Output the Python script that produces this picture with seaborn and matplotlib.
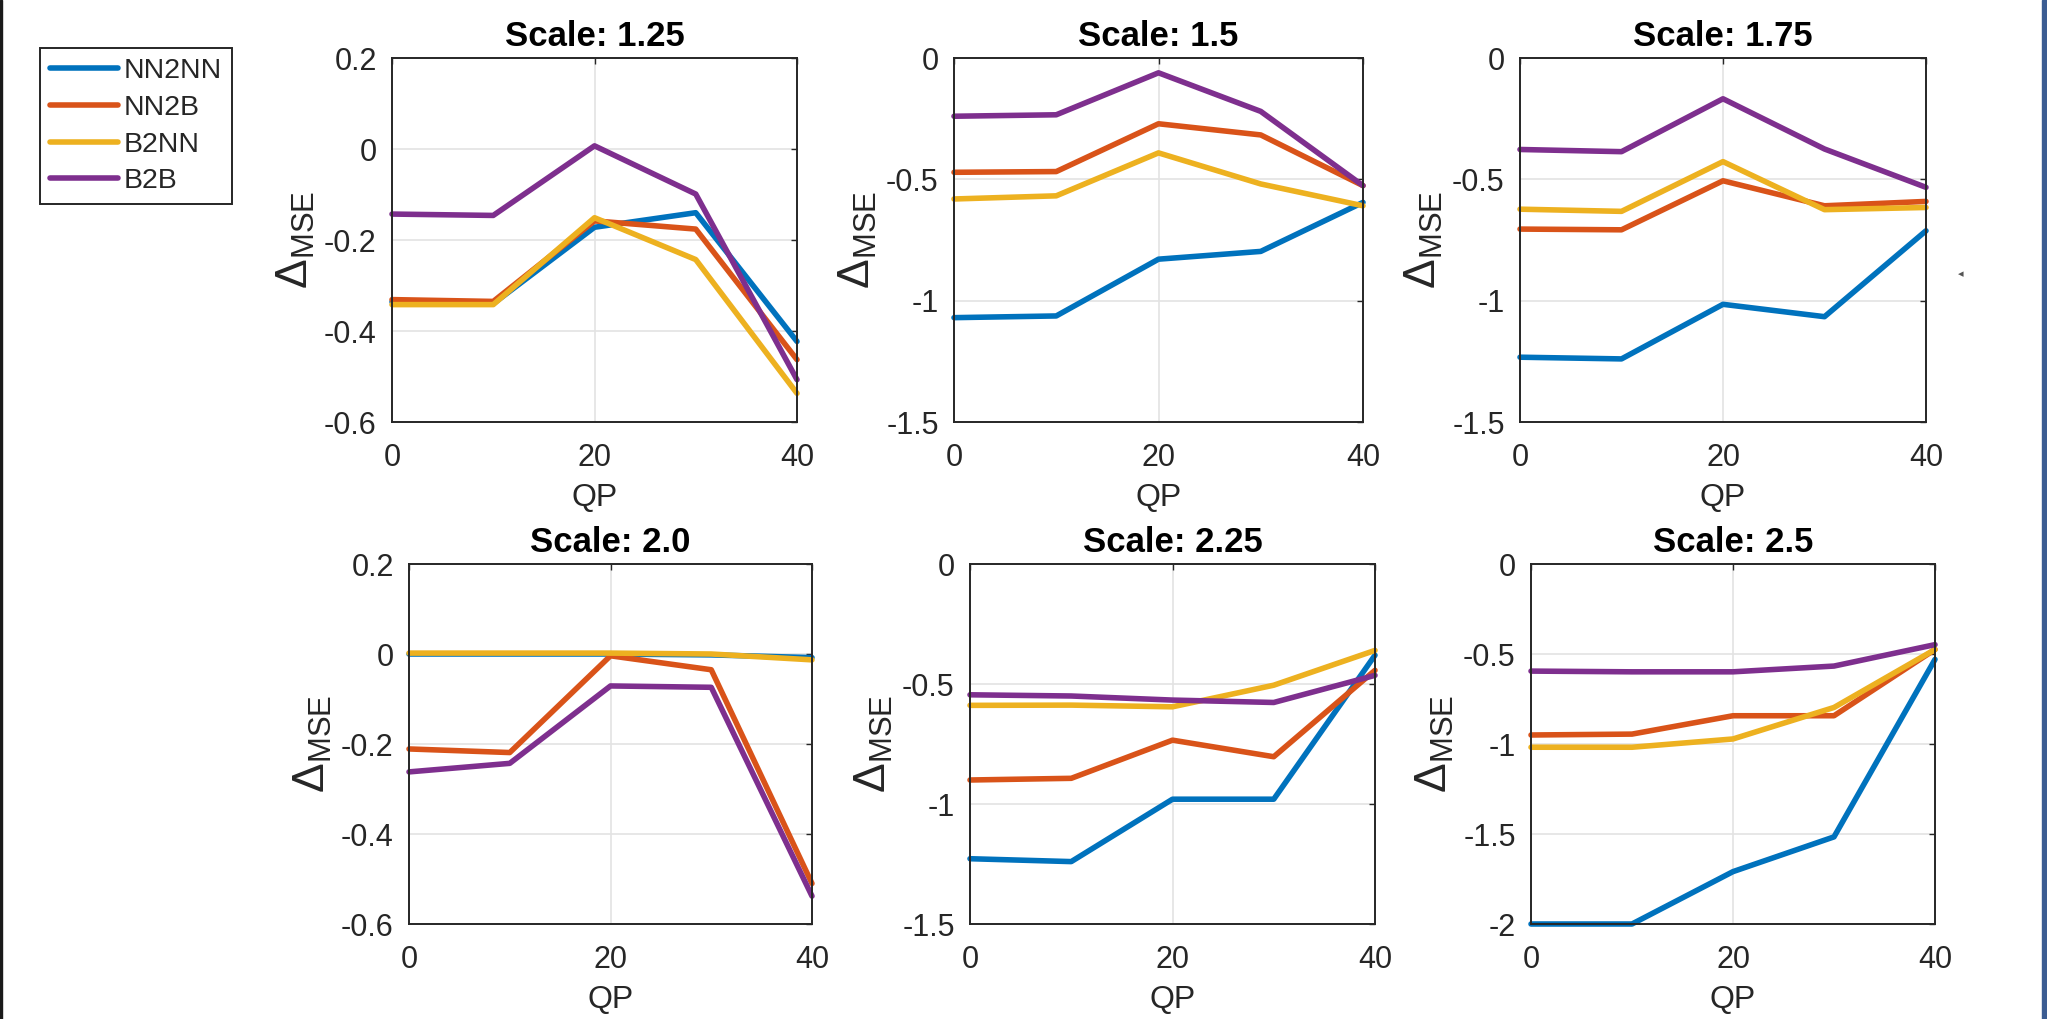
import matplotlib
matplotlib.use("Agg")
import matplotlib.pyplot as plt
from matplotlib.patches import Rectangle
from matplotlib.ticker import FuncFormatter
import seaborn as sns
import numpy as np
import pandas as pd

# QP values on the x axis
qp = [0, 10, 20, 30, 40]
scales = ["1.25", "1.5", "1.75", "2.0", "2.25", "2.5"]
methods = ["NN2NN", "NN2B", "B2NN", "B2B"]
colors = ["#0072BD", "#D95319", "#EDB120", "#7E2F8E"]

# one row per scale, one column per QP
nn2nn = [
    [-0.336, -0.340, -0.172, -0.140, -0.423],
    [-1.070, -1.063, -0.829, -0.797, -0.595],
    [-1.233, -1.240, -1.015, -1.066, -0.712],
    [0.000, 0.000, 0.000, -0.002, -0.008],
    [-1.228, -1.240, -0.980, -0.980, -0.380],
    [-2.000, -2.000, -1.709, -1.516, -0.530],
]
nn2b = [
    [-0.331, -0.335, -0.158, -0.176, -0.463],
    [-0.471, -0.468, -0.271, -0.317, -0.526],
    [-0.705, -0.708, -0.506, -0.609, -0.591],
    [-0.211, -0.219, -0.004, -0.035, -0.510],
    [-0.900, -0.893, -0.734, -0.803, -0.443],
    [-0.950, -0.945, -0.843, -0.843, -0.475],
]
b2nn = [
    [-0.342, -0.342, -0.151, -0.243, -0.537],
    [-0.581, -0.568, -0.391, -0.519, -0.609],
    [-0.623, -0.632, -0.427, -0.625, -0.616],
    [0.002, 0.002, 0.002, 0.000, -0.013],
    [-0.589, -0.588, -0.595, -0.505, -0.360],
    [-1.018, -1.018, -0.972, -0.797, -0.475],
]
b2b = [
    [-0.143, -0.146, 0.007, -0.099, -0.507],
    [-0.240, -0.234, -0.061, -0.220, -0.526],
    [-0.377, -0.386, -0.168, -0.375, -0.533],
    [-0.262, -0.243, -0.071, -0.074, -0.538],
    [-0.545, -0.550, -0.567, -0.577, -0.464],
    [-0.595, -0.599, -0.599, -0.567, -0.448],
]

y_low = [-0.6, -1.5, -1.5, -0.6, -1.5, -2.0]
y_high = [0.2, 0.0, 0.0, 0.2, 0.0, 0.0]
y_step = [0.2, 0.5, 0.5, 0.2, 0.5, 0.5]

# long-form table for seaborn
rows = []
for name, vals in zip(methods, [nn2nn, nn2b, b2nn, b2b]):
    for s, row in zip(scales, vals):
        for q, v in zip(qp, row):
            rows.append({"scale": s, "QP": q, "delta": v, "method": name})
df = pd.DataFrame(rows)

sns.set_theme(style="white")
plt.rcParams["font.family"] = ["Liberation Sans", "DejaVu Sans"]
plt.rcParams["mathtext.fontset"] = "custom"
plt.rcParams["mathtext.rm"] = "Liberation Sans"
plt.rcParams["mathtext.it"] = "Liberation Sans:italic"
plt.rcParams["axes.unicode_minus"] = False

W, H = 2047, 1019
fig = plt.figure(figsize=(W / 100, H / 100), dpi=100)

# axes boxes in pixels: left, top, right, bottom
boxes = [
    (392, 58, 797, 422), (954, 58, 1363, 422), (1520, 58, 1926, 422),
    (409, 564, 812, 924), (970, 564, 1375, 924), (1531, 564, 1935, 924),
]

dark = "#262626"
fmt = FuncFormatter(lambda v, p: "0" if abs(v) < 1e-9 else f"{v:g}")

axes = []
for i, (l, t, r, b) in enumerate(boxes):
    ax = fig.add_axes([l / W, 1 - b / H, (r - l) / W, (b - t) / H])
    sub = df[df["scale"] == scales[i]]
    sns.lineplot(data=sub, x="QP", y="delta", hue="method", hue_order=methods,
                 palette=colors, linewidth=4.0, errorbar=None, legend=False,
                 ax=ax, clip_on=False)
    ax.set_xlim(0, 40)
    ax.set_ylim(y_low[i], y_high[i])
    ax.set_xticks([0, 20, 40])
    ax.set_yticks(np.round(np.arange(y_low[i], y_high[i] + y_step[i] / 2, y_step[i]), 2))
    ax.yaxis.set_major_formatter(fmt)
    ax.grid(True, color="#e3e3e3", linewidth=1.2)
    ax.set_axisbelow(True)
    for sp in ax.spines.values():
        sp.set_color(dark)
        sp.set_linewidth(1.4)
    ax.tick_params(direction="in", top=True, right=True, length=4, width=1,
                   color=dark, labelcolor=dark, labelsize=22)
    ax.tick_params(axis="x", pad=15)
    ax.tick_params(axis="y", pad=11)
    ax.set_title("Scale: " + scales[i], fontsize=25, fontweight="bold",
                 color="black", pad=9)
    ax.set_xlabel("QP", fontsize=23, color=dark, labelpad=7)
    ax.set_ylabel(r"$\Delta_{\mathrm{MSE}}$", fontsize=32, color=dark, labelpad=5)
    axes.append(ax)

leg = fig.legend(handles=axes[0].get_lines()[:4], labels=methods,
                 loc="upper left", bbox_to_anchor=(40 / W, 1 - 48 / H),
                 bbox_transform=fig.transFigure, borderaxespad=0,
                 fontsize=20.5, handlelength=2.4, handletextpad=0.2,
                 labelspacing=0.38, borderpad=0.35, fancybox=False,
                 framealpha=1, edgecolor=dark)
leg.get_frame().set_linewidth(1.4)
for txt in leg.get_texts():
    txt.set_color(dark)

# window edges visible in the screenshot
fig.patches.append(Rectangle((0, 0), 2 / W, 1, transform=fig.transFigure,
                             color="#1a1a1a", zorder=10))
fig.patches.append(Rectangle((2042 / W, 0), 5 / W, 1, transform=fig.transFigure,
                             color="#3b5c92", zorder=10))
fig.text(1961 / W, 1 - 274 / H, "\u25c2", fontsize=8, color="#555555",
         ha="center", va="center")

fig.savefig("out.png", dpi=100, facecolor="white")
